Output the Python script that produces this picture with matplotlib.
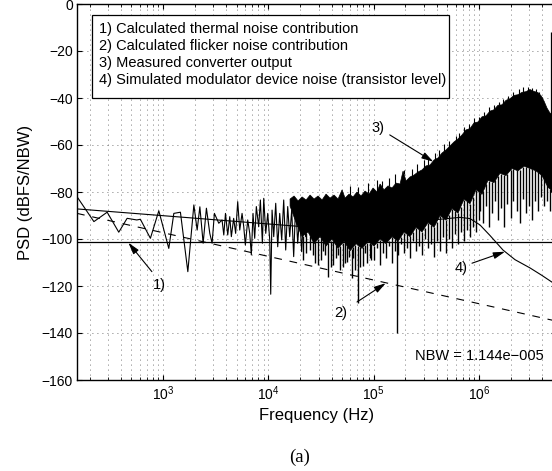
import numpy as np
import matplotlib
matplotlib.use('Agg')
import matplotlib.pyplot as plt
from matplotlib.patches import Rectangle
from matplotlib.ticker import NullFormatter

plt.rcParams['font.family'] = ['Liberation Sans', 'DejaVu Sans']
plt.rcParams['mathtext.fontset'] = 'custom'
plt.rcParams['mathtext.rm'] = 'Liberation Sans'
plt.rcParams['mathtext.it'] = 'Liberation Sans:italic'

# ---- data (Hz, dBFS/NBW) ----
# measured output, sparse low-frequency part
lf_freq = [152, 220, 294, 379, 455, 562, 608, 757, 910, 1132, 1264, 1460, 1717, 1959,
           2105, 2234, 2400, 2578, 2776, 2920, 3070, 3380, 3630, 3770,
           3912, 4111, 4295, 4449, 4680, 4886, 5112, 5344, 5623, 5834, 6043, 6365,
           6650, 6887, 7145, 7413, 7684, 8090, 8393, 8770, 9036, 9440, 9862, 10303,
           10525, 10838, 11240, 11742, 12266, 12813, 13385, 13982, 14606, 15258,
           15939, 16650, 17393, 18169, 18980, 19827, 20712, 21636, 22602, 23263]
lf_psd = [-82.0, -92.6, -88.6, -97.1, -91.2, -91.9, -91.6, -99.7, -88.0, -104.0, -89.1,
          -88.6, -113.9, -85.5, -96.2, -86.3, -101.8, -86.9, -97.6, -101.8, -89.1, -93.3,
          -91.9, -98.3,
          -89.1, -98.3, -90.5, -99.0, -91.2, -97.6, -84.1, -96.2, -89.1, -94.8, -102.6,
          -91.9, -97.6, -106.8, -89.1, -99.7, -86.2, -94.8, -83.4, -101.8, -82.7, -97.6,
          -89.1, -100.4, -123.5, -87.7, -99.0, -84.8, -103.3, -89.1, -100.4, -83.4,
          -104.7, -86.2, -99.0, -87.7, -107.5, -84.8, -101.8, -90.5, -105.4, -87.7,
          -99.0, -89.1]

# measured output, dense part: upper edge
band_freq = [16070, 17540, 19150, 20900, 22810, 24900, 27170, 29660, 32360, 35320,
             38550, 42070, 45920, 50120, 53520, 58400, 63740, 69560, 75920, 82850,
             90430, 98700, 107700, 115100, 125600, 137000, 149600, 163300, 178200,
             190300, 203200, 221800, 242000, 264100, 288300, 314700, 343500, 374800,
             409100, 446500, 487300, 531800, 580400, 633500, 691400, 754600, 823500,
             898800, 981000, 1070600, 1168000, 1275000, 1392000, 1519000, 1658000,
             1809000, 1975000, 2156000, 2352000, 2567000, 2801000, 3058000, 3337000,
             3642000, 3889000, 4154000, 4436000, 4731000, 5166000, 5400000]
band_top = [-83.0, -81.7, -83.8, -82.1, -83.4, -81.3, -83.0, -81.7, -83.4, -80.9,
            -82.6, -81.3, -83.0, -79.1, -82.6, -80.9, -82.1, -80.0, -81.7, -79.6,
            -80.9, -78.3, -80.0, -76.6, -79.1, -77.4, -78.3, -76.2, -76.6,
            -71.1, -75.3, -73.6, -72.8, -71.5, -70.6, -68.9, -68.5, -66.4,
            -65.5, -63.4, -62.1, -60.4, -58.7, -57.4, -55.7, -53.6, -53.0,
            -50.6, -50.2, -48.0, -47.6, -45.6, -45.0, -43.1, -42.9,
            -41.0, -40.3, -38.9, -38.6, -37.6, -37.3, -36.4, -37.2,
            -37.7, -39.0, -41.3, -44.3, -46.4, -47.2, -48.0]

# measured output, dense part: lower edge of the solid band
low_freq = [16070, 18330, 20900, 23840, 27170, 30980, 35320, 40270, 45920, 52360,
            59690, 68070, 77610, 88510, 100900, 115100, 131200, 149600, 170600,
            194500, 221800, 252800, 288300, 328600, 374800, 427400, 487300, 555400,
            633500, 722200, 823500, 938900, 1070600, 1220000, 1392000, 1587000,
            1809000, 2063000, 2352000, 2682000, 3058000, 3486000, 3975000, 4532000,
            5166000, 5400000]
low_psd = [-86.0, -93.0, -99.0, -97.0, -102.0, -99.0, -103.0, -100.0, -104.0, -101.0,
           -105.0, -102.0, -104.0, -101.0, -103.0, -100.0, -102.0, -99.0, -101.0,
           -97.0, -99.0, -95.0, -97.0, -93.0, -95.0, -90.0, -92.0, -87.0,
           -89.0, -83.0, -85.0, -79.0, -81.0, -75.0, -76.0, -72.0,
           -73.0, -70.0, -71.0, -69.0, -70.0, -71.0, -73.0, -78.0,
           -80.0, -81.0]

# measured output, downward spikes below the band
spike_freq = [21480, 23000, 24880, 26500, 28000, 29850, 31500, 33000, 34540, 37120,
              39000, 41420, 44000, 46000, 47940, 51000, 53000, 55570, 58800, 61980,
              64000, 66560, 71590, 75000, 79840, 83000, 86000, 92430, 95000,
              100000, 106800, 114000, 121800, 130000, 138900, 148300, 158400, 165700,
              169200, 180700, 193000, 206100, 220100, 235000, 251000, 268100, 286300,
              305800, 326600, 348800, 372500, 397800, 424800, 453700, 484600, 517500,
              552700, 590300, 630400, 673300, 719000, 767900, 820100, 875800, 935400,
              999000, 1035000, 1105000, 1180000, 1260000, 1345000, 1437000, 1535000,
              1639000, 1750000, 1869000, 1996000, 2131000, 2276000, 2431000, 2596000,
              2772000, 2960000, 3161000, 3376000, 3605000, 3850000, 4111000, 4390000,
              4688000]
spike_psd = [-108.9, -106.0, -104.7, -107.0, -110.0, -111.1, -109.0, -105.0, -106.8,
             -116.0, -112.0, -111.1, -108.0, -107.0, -113.2, -112.0, -110.0, -109.8,
             -107.5, -116.6, -108.0, -113.2, -127.4, -112.0, -111.5, -106.0, -110.0,
             -108.1, -109.0,
             -109.0, -104.0, -111.0, -106.0, -108.0, -103.0, -110.0, -105.0, -140.1,
             -107.0, -102.0, -106.0, -104.0, -108.0, -101.0, -105.0, -103.0, -107.0,
             -100.0, -104.0, -102.0, -107.5, -101.0, -105.0, -99.0, -106.0, -100.0,
             -104.0, -98.0, -102.0, -97.0, -101.0, -96.0, -99.0, -95.0, -97.0,
             -92.0, -88.0, -93.0, -86.0, -95.0, -89.0, -84.0, -92.0,
             -87.0, -95.0, -85.0, -91.0, -84.0, -88.0, -93.0, -83.0,
             -89.0, -86.0, -92.0, -84.0, -88.0, -82.0, -86.0, -84.0,
             -88.0]

# measured output, small upward spikes on the top edge
up_freq = [60000, 71000, 88000, 107000, 120000, 140000, 160000, 194000, 230000, 260000,
           300000, 330000, 380000, 420000, 470000, 520000, 600000, 650000, 720000,
           800000, 900000, 1000000, 1120000, 1250000, 1400000, 1550000, 1700000,
           1900000, 2100000, 2400000, 2650000, 2900000, 3200000, 3500000, 3750000,
           4000000]
up_psd = [-77.5, -78.0, -76.0, -74.9, -75.5, -74.0, -72.5, -70.6, -70.0, -68.0,
          -66.5, -66.0, -63.5, -62.0, -59.5, -58.5, -56.0, -55.0, -52.5,
          -51.0, -48.5, -48.0, -46.0, -44.0, -43.0, -41.5, -40.5,
          -39.0, -37.5, -36.2, -35.5, -35.2, -35.8, -36.3, -37.5,
          -39.5]

# tone at the right edge
tone_freq = 4.84e6
tone_psd = [-80.0, -11.8]

# 1) thermal noise, 2) flicker noise
thermal_psd = -101.4
flicker_freq = [152, 5.4e6]
flicker_psd = [-89.1, -134.9]

# 4) simulated device noise
sim_freq = [152, 23330, 115000, 343600, 660900, 822000, 1023000, 1274000, 1694000,
            2203000, 3055000, 3972000, 5400000]
sim_psd = [-87.2, -94.9, -94.0, -92.0, -90.8, -91.3, -94.0, -98.5, -104.7, -108.8,
           -112.3, -115.5, -119.5]

legend_lines = ['1) Calculated thermal noise contribution',
                '2) Calculated flicker noise contribution',
                '3) Measured converter output',
                '4) Simulated modulator device noise (transistor level)']

# ---- figure ----
fig = plt.figure(figsize=(5.52, 4.71), dpi=100)
ax = fig.add_axes([77 / 552, 1 - 380 / 471, 479 / 552, 376 / 471])
ax.set_xscale('log')
ax.set_xlim(152, 5.4e6)
ax.set_ylim(-160, 0)
ax.set_yticks(np.arange(-160, 1, 20))
ax.xaxis.set_minor_formatter(NullFormatter())

dots = (0, (1, 5))
ax.grid(True, which='major', axis='both', linestyle=dots, linewidth=0.6, color='0.3')
ax.grid(True, which='minor', axis='x', linestyle=dots, linewidth=0.6, color='0.3')
ax.set_axisbelow(True)

ax.tick_params(which='both', direction='in', top=True, right=True, labelsize=10)
ax.tick_params(which='major', length=3.6, width=0.8, pad=3)
ax.tick_params(which='minor', length=2.0, width=0.6)
for s in ax.spines.values():
    s.set_linewidth(1.0)

# reference lines
ax.axhline(thermal_psd, color='k', lw=0.9)
ax.plot(flicker_freq, flicker_psd, color='k', lw=0.8, linestyle=(0, (7, 7)))

# simulated device noise
ax.plot(sim_freq, sim_psd, color='k', lw=0.8)

# measured spectrum
ax.plot(lf_freq, lf_psd, color='k', lw=0.8)
ax.fill(np.r_[band_freq, low_freq[::-1]], np.r_[band_top, low_psd[::-1]],
        facecolor='k', edgecolor='k', lw=0.5)
spike_base = np.interp(np.log10(spike_freq), np.log10(low_freq), low_psd)
ax.vlines(spike_freq, spike_psd, spike_base, color='k', lw=1.0)
up_base = np.interp(np.log10(up_freq), np.log10(band_freq), band_top)
ax.vlines(up_freq, up_base, up_psd, color='k', lw=0.8)
ax.vlines(tone_freq, tone_psd[0], tone_psd[1], color='k', lw=0.9)

ax.set_xlabel('Frequency (Hz)', fontsize=12)
ax.set_ylabel('PSD (dBFS/NBW)', fontsize=12)
ax.xaxis.set_label_coords(0.5, -0.0745)
ax.yaxis.set_label_coords(-0.092, 0.5)

# legend box
ax.add_patch(Rectangle((15 / 479, 0.750), 357 / 479, 0.221, transform=ax.transAxes,
                       facecolor='white', edgecolor='k', lw=0.9, zorder=5))
for i, line in enumerate(legend_lines):
    ax.text(22 / 479, 0.9335 - i * 0.0455, line, transform=ax.transAxes,
            fontsize=10.5, va='center', ha='left', zorder=6)

ax.text(338 / 479, (380 - 356) / 376, 'NBW = 1.144e\u2212005',
        transform=ax.transAxes, fontsize=10.5, va='center', ha='left')

# numbered arrows
arrow_kw = dict(arrowstyle='-|>,head_length=0.7,head_width=0.2', color='k', lw=0.8,
                shrinkA=0, shrinkB=0, mutation_scale=10)
labels = ['1)', '2)', '3)', '4)']
label_pos = [(922, -119.6), (48980, -131.6), (109400, -52.6), (676000, -112.5)]
tails = [(782, -113.9), (69500, -126.8), (142200, -55.7), (859700, -110.3)]
tips = [(468, -101.6), (130300, -118.8), (369000, -67.1), (1770000, -105.4)]
for lab, p, t, h in zip(labels, label_pos, tails, tips):
    ax.text(p[0], p[1], lab, fontsize=10.5, ha='center', va='center')
    ax.annotate('', xy=h, xytext=t, arrowprops=arrow_kw)

fig.text(299.5 / 552, 1 - 457 / 471, '(a)', family='Liberation Serif', fontsize=13.5,
         ha='center', va='center')

fig.savefig('out.png', dpi=100)
